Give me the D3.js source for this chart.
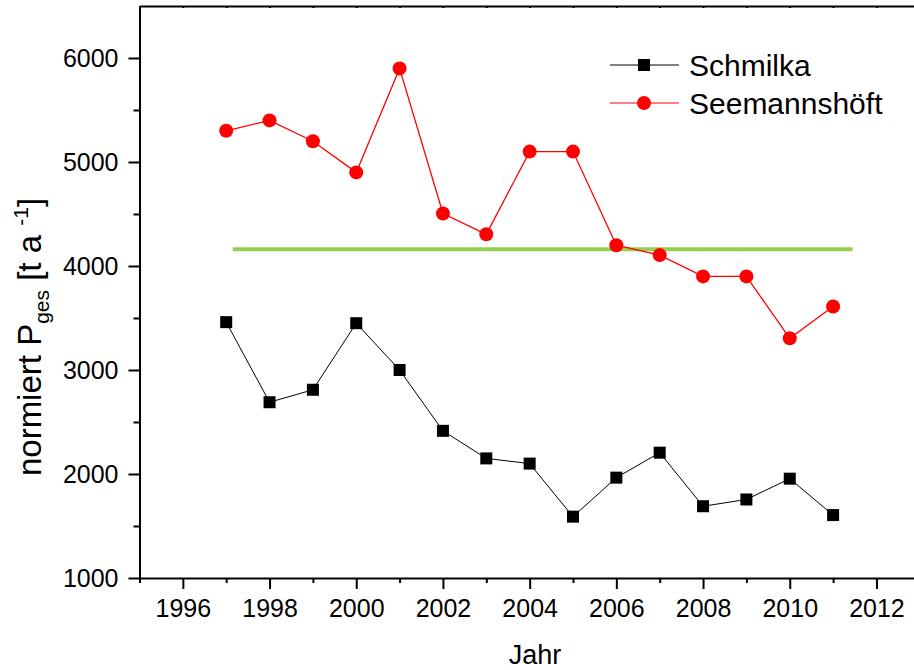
<!DOCTYPE html>
<html lang="de">
<head>
  <meta charset="UTF-8">
  <title>normiert Pges</title>
  <script src="https://d3js.org/d3.v7.min.js"></script>
  <style>
    body { margin: 0; background: white; font-family: "Liberation Sans", Arial, sans-serif; }
    svg { display: block; }
    .axis path, .axis line { stroke: #000; stroke-width: 2; }
  </style>
</head>
<body>
<svg width="914" height="670"></svg>
<script>
  // data
  const years = [1997, 1998, 1999, 2000, 2001, 2002, 2003, 2004, 2005, 2006, 2007, 2008, 2009, 2010, 2011];
  const schmilka = [3460, 2690, 2810, 3450, 3000, 2415, 2150, 2100, 1590, 1965, 2205, 1690, 1755, 1955, 1605];
  const seemannshoeft = [5300, 5400, 5200, 4900, 5900, 4505, 4305, 5100, 5100, 4200, 4105, 3900, 3900, 3305, 3610];
  const meanLine = { from: 1997.15, to: 2011.45, value: 4160 };
  const xTicks = [1996, 1998, 2000, 2002, 2004, 2006, 2008, 2010, 2012];
  const yTicks = [1000, 2000, 3000, 4000, 5000, 6000];
  const seriesNames = ["Schmilka", "Seemannshöft"];

  const svg = d3.select("svg");

  const x = d3.scaleLinear().domain([1995, 2013]).range([139.5, 919.8]);
  const y = d3.scaleLinear().domain([1000, 6500]).range([578, 6]);

  // minor ticks (odd years, half thousands)
  const xMinor = d3.range(1995, 2014, 2);
  const yMinor = d3.range(1500, 6500, 1000);

  const styleText = g => g.selectAll("text")
    .attr("font-family", "'Liberation Sans', Arial, sans-serif")
    .attr("font-size", 25)
    .attr("fill", "#000");

  // bottom axis
  svg.append("g")
    .attr("class", "axis")
    .attr("transform", `translate(0,${y.range()[0]})`)
    .call(d3.axisBottom(x).tickValues(xMinor).tickSize(5).tickFormat(""))
    .call(g => g.select(".domain").remove());
  svg.append("g")
    .attr("class", "axis")
    .attr("transform", `translate(0,${y.range()[0]})`)
    .call(d3.axisBottom(x).tickValues(xTicks).tickSize(11).tickPadding(10).tickSizeOuter(0).tickFormat(d3.format("d")))
    .call(styleText);

  // top line with small inward ticks
  svg.append("g")
    .attr("class", "axis")
    .attr("transform", `translate(0,${y.range()[1]})`)
    .call(d3.axisBottom(x).tickValues(xTicks.concat(xMinor)).tickSize(2).tickSizeOuter(0).tickFormat(""));

  // left axis
  svg.append("g")
    .attr("class", "axis")
    .attr("transform", `translate(${x.range()[0]},0)`)
    .call(d3.axisLeft(y).tickValues(yMinor).tickSize(6).tickFormat(""))
    .call(g => g.select(".domain").remove());
  svg.append("g")
    .attr("class", "axis")
    .attr("transform", `translate(${x.range()[0]},0)`)
    .call(d3.axisLeft(y).tickValues(yTicks).tickSize(11).tickPadding(10).tickSizeOuter(0).tickFormat(d3.format("d")))
    .call(styleText);

  // green reference line
  svg.append("line")
    .attr("x1", x(meanLine.from))
    .attr("x2", x(meanLine.to))
    .attr("y1", y(meanLine.value))
    .attr("y2", y(meanLine.value))
    .attr("stroke", "#92d050")
    .attr("stroke-width", 4);

  const line = d3.line().x((d, i) => x(years[i])).y(d => y(d));

  // Schmilka
  svg.append("path")
    .datum(schmilka)
    .attr("fill", "none")
    .attr("stroke", "#000")
    .attr("stroke-width", 1)
    .attr("d", line);
  svg.append("g")
    .selectAll("rect")
    .data(schmilka)
    .join("rect")
    .attr("x", (d, i) => x(years[i]) - 6)
    .attr("y", d => y(d) - 6)
    .attr("width", 12)
    .attr("height", 12)
    .attr("fill", "#000");

  // Seemannshöft
  svg.append("path")
    .datum(seemannshoeft)
    .attr("fill", "none")
    .attr("stroke", "#ff0000")
    .attr("stroke-width", 1.3)
    .attr("d", line);
  svg.append("g")
    .selectAll("circle")
    .data(seemannshoeft)
    .join("circle")
    .attr("cx", (d, i) => x(years[i]))
    .attr("cy", d => y(d))
    .attr("r", 7)
    .attr("fill", "#ff0000");

  // legend
  const legend = svg.append("g").attr("transform", "translate(610,0)");
  const rows = [
    { name: seriesNames[0], color: "#000", cy: 65, marker: "rect" },
    { name: seriesNames[1], color: "#ff0000", cy: 103, marker: "circle" }
  ];
  rows.forEach(r => {
    legend.append("line")
      .attr("x1", 0).attr("x2", 69)
      .attr("y1", r.cy).attr("y2", r.cy)
      .attr("stroke", r.color)
      .attr("stroke-width", 1);
    if (r.marker === "rect") {
      legend.append("rect")
        .attr("x", 34 - 6).attr("y", r.cy - 6)
        .attr("width", 12).attr("height", 12)
        .attr("fill", r.color);
    } else {
      legend.append("circle")
        .attr("cx", 34).attr("cy", r.cy).attr("r", 7)
        .attr("fill", r.color);
    }
    legend.append("text")
      .attr("x", 79).attr("y", r.cy + 11)
      .attr("font-size", 30)
      .attr("fill", "#000")
      .text(r.name);
  });

  // axis titles
  svg.append("text")
    .attr("x", 535).attr("y", 664)
    .attr("text-anchor", "middle")
    .attr("font-size", 27)
    .text("Jahr");

  const yTitle = svg.append("text")
    .attr("transform", "translate(41,337) rotate(-90)")
    .attr("text-anchor", "middle")
    .attr("font-size", 33);
  yTitle.append("tspan").text("normiert P");
  yTitle.append("tspan").attr("font-size", 21).attr("dy", 8).text("ges");
  yTitle.append("tspan").attr("dy", -8).text(" [t a ");
  yTitle.append("tspan").attr("font-size", 21).attr("dy", -13).text("-1");
  yTitle.append("tspan").attr("dy", 13).text("]");
</script>
</body>
</html>
